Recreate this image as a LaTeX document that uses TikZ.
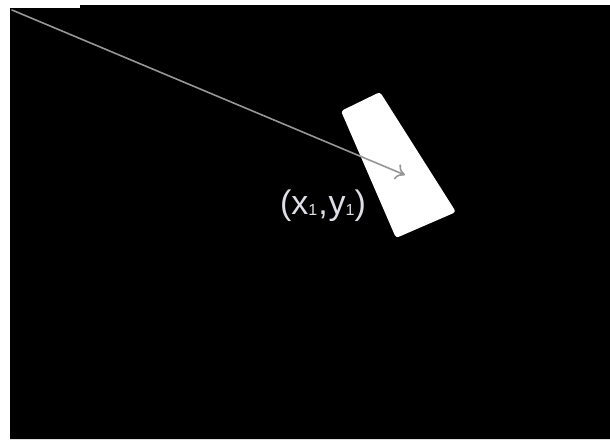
\documentclass[tikz,border=0pt]{standalone}
\usepackage{fontspec}
\setmainfont{Liberation Sans}
\usetikzlibrary{arrows.meta}
\definecolor{arrowgray}{RGB}{150,150,150}
\definecolor{labelgray}{RGB}{222,222,230}
\newcommand{\lowsub}[1]{\raisebox{-1pt}{\fontsize{16}{16}\selectfont #1}}
\begin{document}
\begin{tikzpicture}[x=1pt,y=-1pt,line cap=round]
  \useasboundingbox (0,0) rectangle (610,439);
  \fill[black] (10,8) rectangle (610,439) (80,5) rectangle (610,8);
  \coordinate (P) at (12,10); \coordinate (Q) at (405,175);
  \coordinate (A) at (341,111); \coordinate (B) at (380,92); \coordinate (C) at (456,212); \coordinate (D) at (396,238);
  \fill[white,rounded corners=3pt] (A)--(B)--(C)--(D)--cycle;
  \draw[arrowgray,line width=1.6pt,-{To[length=9pt,width=16pt]}] (P)--(Q);
  \node[labelgray,font=\fontsize{34}{40}\selectfont] (lbl) at (323,206) {(x\lowsub{1}\kern1pt,\kern1pt y\lowsub{1})};
\end{tikzpicture}
\end{document}
